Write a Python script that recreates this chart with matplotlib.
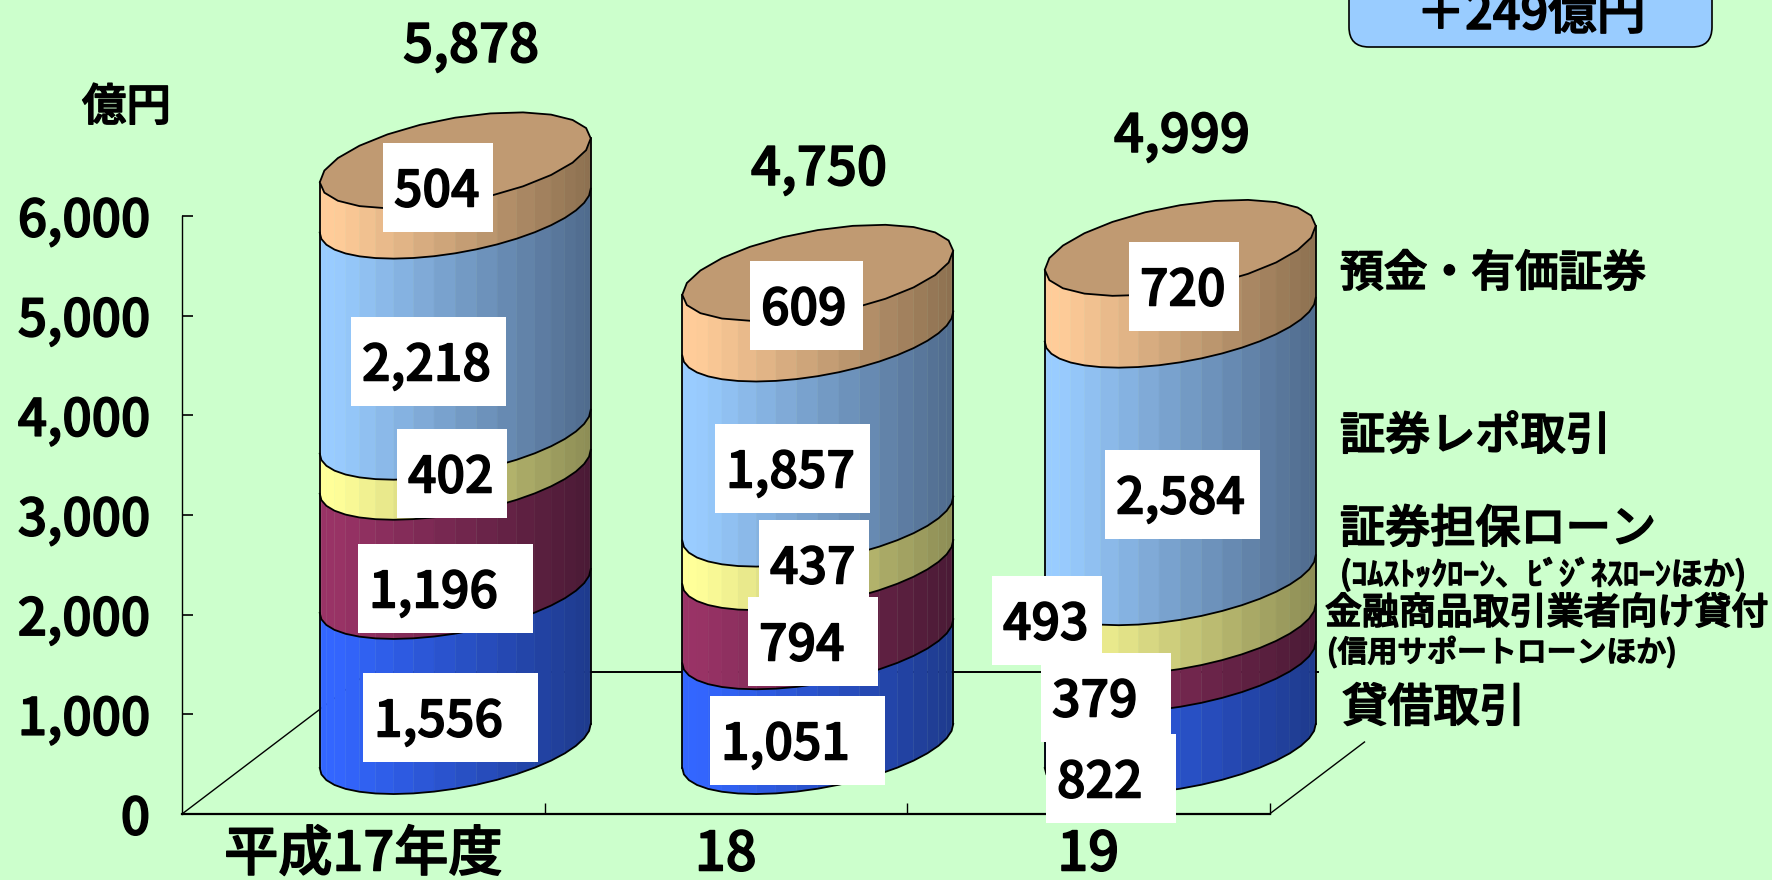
import matplotlib
matplotlib.use("Agg")
import matplotlib.pyplot as plt
from matplotlib import patheffects
from matplotlib.collections import PolyCollection
from matplotlib.patches import FancyBboxPatch, Rectangle
import numpy as np

plt.rcParams['font.family'] = ['Noto Sans CJK JP', 'DejaVu Sans']
plt.rcParams['font.weight'] = 'medium'

categories = ["平成17年度", "18", "19"]
totals = [5878, 4750, 4999]
lending = [1556, 1051, 822]
financial = [1196, 794, 379]
secured = [402, 437, 493]
repo = [2218, 1857, 2584]
deposits = [504, 609, 720]
yticks = [0, 1000, 2000, 3000, 4000, 5000, 6000]

series = [lending, financial, secured, repo, deposits]
light = ["#3366FF", "#993366", "#FFFF99", "#99CCFF", "#FFCC99"]
dark = ["#1E3A8C", "#4A1A35", "#8C8C55", "#4F6A8C", "#8C7050"]
top_color = "#C09A72"

# 文字を少し太く見せる
heavy = [patheffects.withStroke(linewidth=1.1, foreground="black")]

# ピクセル位置とデータ座標の対応
W, H = 1772, 880
X0, STEP = 363.25, 362.5
Y0, YSCALE = 814, 598 / 6000


def px(x, y):
    return (x - X0) / STEP, (Y0 - y) / YSCALE


def text_px(x, y, s, size, **kw):
    dx, dy = px(x, y)
    return ax.text(dx, dy, s, fontsize=size, zorder=10, path_effects=heavy, **kw)


fig = plt.figure(figsize=(W / 100, H / 100), dpi=100, facecolor="#CCFFCC")
ax = fig.add_axes([0, 0, 1, 1], facecolor="#CCFFCC")
ax.set_xlim(-X0 / STEP, (W - X0) / STEP)
ax.set_ylim((Y0 - H) / YSCALE, Y0 / YSCALE)

# 軸
for s in ["top", "right"]:
    ax.spines[s].set_visible(False)
ax.spines["left"].set_position(("data", -0.5))
ax.spines["left"].set_bounds(0, 6000)
ax.spines["bottom"].set_position(("data", 0))
ax.spines["bottom"].set_bounds(-0.5, 2.5)
ax.spines["left"].set_linewidth(1.0)
ax.spines["bottom"].set_linewidth(1.6)
ax.set_yticks(yticks, [f"{v:,}" for v in yticks], fontsize=37)
ax.tick_params(axis="y", direction="in", length=8, width=1.2, pad=23)
ax.set_xticks([0.5, 1.5, 2.5], [])
ax.tick_params(axis="x", which="major", direction="in", length=8, width=1.0)
ax.set_xticks([0, 1, 2], categories, minor=True, fontsize=39)
ax.tick_params(axis="x", which="minor", length=0, pad=9)
for lab in ax.get_yticklabels() + ax.get_xticklabels(minor=True):
    lab.set_path_effects(heavy)

# 床の線
DEPTH_X, DEPTH_Y = 187 / STEP, 142 / YSCALE
ax.plot([-0.5, -0.5 + DEPTH_X], [0, DEPTH_Y], color="black", lw=1.0, zorder=1)
ax.plot([-0.5 + DEPTH_X, px(1318, 0)[0]], [DEPTH_Y, DEPTH_Y], color="black", lw=1.4, zorder=1)
ax.plot([2.5, 2.5 + 95 / STEP], [0, 72 / YSCALE], color="black", lw=1.0, zorder=1)

# 円柱
OFF_X, OFF_Y = 92 / STEP, 68 / YSCALE
RX = 135.5 / STEP
SKEW, RY = 22 / YSCALE, 42.7 / YSCALE
FACETS = 20
ang = np.linspace(np.pi, 0, FACETS + 1)
ux = np.cos(ang)
uy_front = SKEW * ux - RY * np.sin(ang)
outline_ang = np.linspace(0, 2 * np.pi, 25)


def mix(c1, c2, t):
    a = np.array(matplotlib.colors.to_rgb(c1))
    b = np.array(matplotlib.colors.to_rgb(c2))
    return tuple(a + (b - a) * t)


for i in range(len(categories)):
    cx = i + OFF_X
    base = 0
    for k, vals in enumerate(series):
        v = vals[i]
        y1, y2 = base + OFF_Y, base + v + OFF_Y
        polys, cols = [], []
        for j in range(FACETS):
            x_a, x_b = cx + RX * ux[j], cx + RX * ux[j + 1]
            polys.append([(x_a, y1 + uy_front[j]), (x_b, y1 + uy_front[j + 1]),
                          (x_b, y2 + uy_front[j + 1]), (x_a, y2 + uy_front[j])])
            t = (ux[j] + ux[j + 1] + 2) / 4
            cols.append(mix(light[k], dark[k], max(0, (t - 0.06) / 0.94)))
        ax.add_collection(PolyCollection(polys, facecolors=cols, edgecolors=cols,
                                         linewidths=0.3, zorder=2))
        ax.plot(cx + RX * ux, y1 + uy_front, color="black", lw=1.3, zorder=3)
        base += v
    # 側面の輪郭と上面
    top = base + OFF_Y
    ax.plot([cx - RX, cx - RX], [OFF_Y - SKEW, top - SKEW], color="black", lw=1.3, zorder=3)
    ax.plot([cx + RX, cx + RX], [OFF_Y + SKEW, top + SKEW], color="black", lw=1.3, zorder=3)
    ax.fill(cx + RX * np.cos(outline_ang),
            top + SKEW * np.cos(outline_ang) + RY * np.sin(outline_ang),
            facecolor=top_color, edgecolor="black", lw=1.3, zorder=4)

# 白いラベル枠 (左, 上, 幅) ピクセル
label_boxes = [
    [(363, 673, 175), (710, 696, 175), (1046, 734, 130)],
    [(358, 544, 175), (748, 597, 130), (1041, 653, 130)],
    [(397, 429, 110), (759, 520, 110), (992, 576, 110)],
    [(351, 317, 155), (715, 424, 155), (1105, 450, 155)],
    [(383, 143, 110), (750, 261, 113), (1129, 242, 110)],
]
BOX_H = 89
z = 5.0
for k in [2, 1, 0, 3, 4]:
    for i, (left, top, width) in enumerate(label_boxes[k]):
        z += 0.01
        xa, ya = px(left, top + BOX_H)
        ax.add_patch(Rectangle((xa, ya), width / STEP, BOX_H / YSCALE, facecolor="white",
                               edgecolor="none", zorder=z))
        dx, dy = px(left + 11, top + BOX_H / 2 + 19)
        ax.text(dx, dy, f"{series[k][i]:,}", fontsize=36, ha="left", va="baseline", zorder=z,
                path_effects=heavy)

# 合計
for (x, y), t in zip([(471, 62), (819, 185), (1182, 152)], totals):
    text_px(x, y, f"{t:,}", 38, ha="center", va="baseline")

text_px(82, 108, "億円", 32, ha="left", va="center")

# 右側の系列名
text_px(1340, 274, "預金・有価証券", 31.5, ha="left", va="center")
text_px(1340, 436, "証券レポ取引", 32.5, ha="left", va="center")
text_px(1340, 529, "証券担保ローン", 32.5, ha="left", va="center")
text_px(1340, 575, "(ｺﾑｽﾄｯｸﾛｰﾝ、ﾋﾞｼﾞﾈｽﾛｰﾝほか)", 23, ha="left", va="center")
text_px(1325, 613, "金融商品取引業者向け貸付", 26.6, ha="left", va="center")
text_px(1327, 653, "(信用サポートローンほか)", 21.5, ha="left", va="center")
text_px(1342, 708, "貸借取引", 33, ha="left", va="center")

# 右上の増減ボックス
bx, by = px(1349, 47)
ax.add_patch(FancyBboxPatch((bx, by), 363 / STEP, 80 / YSCALE, mutation_aspect=STEP / YSCALE,
                            boxstyle=f"round,pad=0,rounding_size={20 / STEP}",
                            facecolor="#99CCFF", edgecolor="black", lw=1.2, zorder=9))
text_px(1531, 29, "＋249億円", 35, ha="center", va="baseline")

fig.savefig("out.png", dpi=100, facecolor=fig.get_facecolor())
